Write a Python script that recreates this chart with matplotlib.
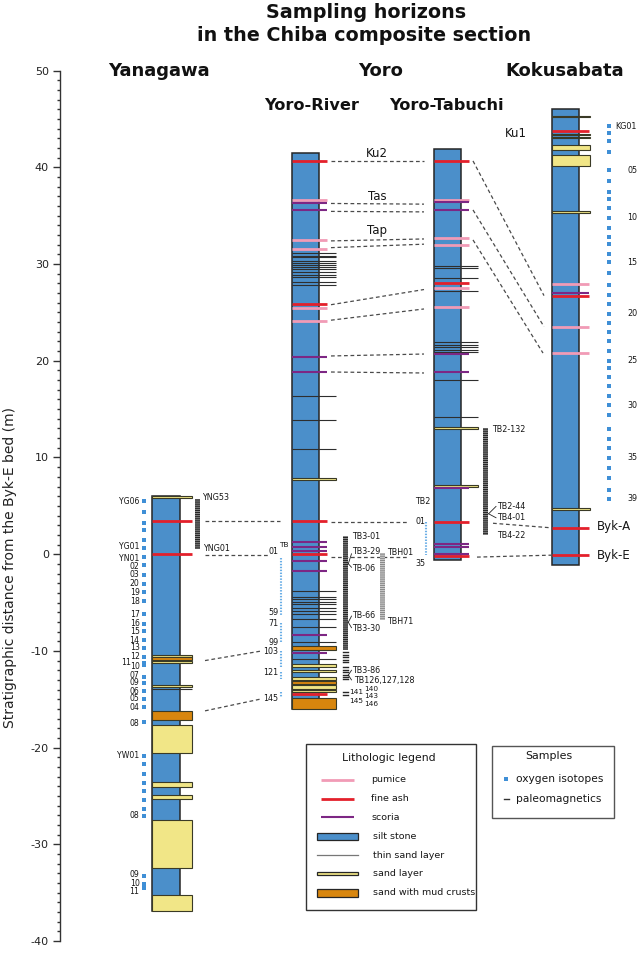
import matplotlib
matplotlib.use("Agg")
import matplotlib.pyplot as plt
from matplotlib.patches import Rectangle
from matplotlib.ticker import MultipleLocator

plt.rcParams['font.family'] = ['DejaVu Sans']
plt.rcParams['hatch.linewidth'] = 0.7
plt.rcParams['axes.unicode_minus'] = False

# ================= DATA: depths (m) relative to the Byk-E bed =================
# ---- Yanagawa ----
yan_silt = (6.0, -36.9)
yan_pumice = []
yan_ash = [3.45, 0.0]
yan_scoria = []
yan_thin = [-13.95]
yan_sand = [(6.0, 5.82), (-10.42, -10.6), (-11.05, -11.25), (-13.5, -13.78),
            (-17.65, -20.6), (-23.6, -24.1), (-24.9, -25.3), (-27.45, -32.4),
            (-35.2, -36.9)]
yan_mud = [(-10.65, -10.98), (-16.2, -17.1)]
yan_oxy = [5.48, 4.38, 3.24, 2.48, 1.45, 0.69, -0.28, -1.14, -2.17, -3.03, -3.96,
           -4.86, -6.21, -7.24, -7.93, -8.9, -9.69, -10.62, -11.24, -11.5, -12.7,
           -13.35, -14.15, -14.94, -15.83, -17.4, -20.88, -21.67, -22.7, -23.63,
           -24.46, -25.39, -26.32, -27.12, -33.23, -34.06, -34.5]
yan_oxy_labels = ["YG06", "YG01", "YN01", "02", "03", "20", "19", "18", "17", "16",
                  "15", "14", "13", "12", "10", "07", "09", "06", "05", "04", "08",
                  "YW01", "08", "09", "10", "11"]
yan_oxy_label_depths = [5.48, 0.8, -0.45, -1.27, -2.13, -3.0, -3.96, -4.87, -6.21,
                        -7.2, -7.98, -8.9, -9.69, -10.55, -11.6, -12.56, -13.3,
                        -14.18, -14.97, -15.9, -17.5, -20.84, -27.05, -33.08,
                        -34.06, -34.9]
yan_extra_label = ("11", -11.15)
yan_pmag = (5.69, 0.49)
yan_pmag_labels = [("YNG53", 5.84), ("YNG01", 0.56)]

# ---- Yoro-River ----
riv_silt = (41.5, -15.97)
riv_pumice = [36.6, 32.5, 31.56, 25.5, 24.1]
riv_ash = [40.67, 25.88, 3.45, 0.0, -14.42]
riv_scoria = [36.37, 35.6, 20.36, 18.84, 1.28, 0.76, 0.3, -0.69, -1.73, -8.31, -10.25]
riv_thin = [31.1, 30.85, 30.7, 30.35, 30.1, 29.9, 29.66, 29.45, 29.2, 28.85, 28.7,
            28.1, 27.8, 16.39, 13.84, 10.84, -3.83, -4.42, -4.66, -4.9, -5.17,
            -5.52, -5.87, -6.21, -6.73, -7.52, -9.07, -10.8]
riv_sand = [(7.88, 7.72), (-11.39, -11.66), (-11.97, -12.18), (-12.7, -12.97),
            (-13.55, -13.9), (-14.05, -14.25)]
riv_mud = [(-9.52, -9.94), (-13.15, -13.42), (-14.84, -15.97)]
riv_oxy_runs = [(-0.44, -6.3), (-7.1, -9.1), (-10.0, -11.66), (-12.2, -12.9),
                (-14.25, -14.77)]
riv_oxy_labels = [("01", 0.33), ("59", -6.07), ("71", -7.17), ("99", -9.17),
                  ("103", -10.1), ("121", -12.24), ("145", -14.94)]
riv_pmag = (1.86, -9.94)
riv_pmag_single = [-10.14, -10.38, -10.66, -10.93, -11.18, -11.7, -11.94, -12.2,
                   -12.45, -12.66, -12.9, -14.29, -14.52]
riv_pmag_labels = [("TB3-01", 1.86), ("TB3-29", 0.31), ("TB-06", -1.45),
                   ("TB-66", -6.35), ("TB3-30", -7.72), ("TB3-86", -12.0),
                   ("TB126,127,128", -13.07)]
riv_pmag_small_a = [("141", -14.29), ("145", -15.14)]
riv_pmag_small_b = [("140", -13.93), ("143", -14.63), ("146", -15.49)]
tbh_pmag = (0.17, -6.83)
tbh_labels = [("TBH01", 0.14), ("TBH71", -6.94)]

# ---- Yoro-Tabuchi ----
tab_silt = (41.9, -0.58)
tab_pumice = [36.6, 32.74, 31.95, 27.56, 25.6]
tab_ash = [40.67, 28.08, 3.34, -0.18]
tab_scoria = [36.4, 35.6, 20.67, 18.8, 6.86, 1.1, 0.76, 0.07]
tab_thin = [29.8, 29.6, 28.57, 27.18, 21.98, 21.64, 21.4, 21.12, 20.88, 18.0, 14.15]
tab_sand = [(13.15, 12.98), (7.12, 6.95)]
tab_mud = []
tab_oxy_run = (3.34, -0.1)
tab_oxy_labels = [("TB2", 5.49), ("01", 3.34), ("35", -0.99)]
tab_pmag = (13.1, 1.97)
tab_pmag_labels = [("TB2-132", 12.9), ("TB2-44", 4.94), ("TB4-01", 3.77), ("TB4-22", 1.94)]

# ---- Kokusabata ----
kok_silt = (46.0, -1.07)
kok_pumice = [27.9, 23.53, 20.8]
kok_ash = [43.79, 26.74, 2.73, -0.1]
kok_scoria = [27.05]
kok_thin = []
kok_sand = [(45.35, 45.18), (43.48, 43.32), (43.18, 43.02), (42.3, 41.75),
            (41.3, 40.16), (35.44, 35.28), (4.74, 4.58)]
kok_mud = []
kok_oxy = [44.27, 43.52, 42.72, 41.55, 39.72, 38.61, 37.47, 36.69, 35.76, 34.78,
           33.69, 32.82, 32.03, 31.03, 30.17, 29.03, 27.82, 26.78, 25.85, 24.89,
           23.91, 22.95, 22.02, 21.01, 19.98, 19.25, 18.32, 17.36, 16.36, 15.39,
           14.36, 12.91, 11.95, 10.97, 9.98, 8.9, 7.91, 6.6, 5.73]
kok_oxy_labels = [("KG01", 44.27), ("05", 39.72), ("10", 34.78), ("15", 30.17),
                  ("20", 24.89), ("25", 19.98), ("30", 15.39), ("35", 9.98), ("39", 5.73)]

# ---- correlation (tie) lines: (depth at left end, depth at right end) ----
ties_yan_riv = [(3.4, 3.4), (-0.05, -0.05), (-11.0, -10.0), (-16.2, -14.95)]
ties_riv_tab = [(40.67, 40.67), (36.27, 36.2), (35.45, 35.4), (32.4, 32.6),
                (31.7, 32.06), (25.8, 27.37), (24.2, 25.36), (20.5, 20.7),
                (18.84, 18.74), (3.31, 3.31), (-0.24, -0.24)]
ties_tab_kok = [(40.67, 26.74), (35.6, 23.53), (32.5, 20.8), (3.2, 2.73), (-0.3, -0.1)]

# ---- tephra names ----
tephra_names = [("Ku2", 41.43), ("Tas", 36.96), ("Tap", 33.44)]
ku1_label = ("Ku1", 43.55)
byk_labels = [("Byk-A", 2.9), ("Byk-E", -0.13)]

# ================= STYLE / LAYOUT =================
BLUE = '#4b8fca'
EDGE = '#262626'
PINK = '#f19bb6'
RED = '#e3202b'
PURPLE = '#7d2784'
THIN = '#2e2e2e'
SAND = '#f1e687'
MUD = '#d8860e'
OXY = '#3f8fd6'
OXY_LIGHT = '#6aaee6'
TIE = '#4a4a4a'
TXT = '#161616'

COL_YAN = dict(x0=152.0, x1=179.5, teph=12.0, sand=12.5)
COL_RIV = dict(x0=292.3, x1=319.0, teph=8.3, sand=17.0)
COL_TAB = dict(x0=434.3, x1=461.0, teph=8.0, sand=16.7)
COL_KOK = dict(x0=552.3, x1=578.7, teph=10.3, sand=11.3)

fig = plt.figure(figsize=(6.38, 9.56), dpi=100)
ax = fig.add_axes([60 / 638, 15 / 956, 578 / 638, (941 - 70.7) / 956])
ax.set_xlim(60, 638)
ax.set_ylim(-40, 50)
ax.patch.set_alpha(0)
for s in ['top', 'right', 'bottom']:
    ax.spines[s].set_visible(False)
ax.spines['left'].set_color('#333333')
ax.spines['left'].set_linewidth(1.0)
ax.set_xticks([])
ax.yaxis.set_major_locator(MultipleLocator(10))
ax.yaxis.set_minor_locator(MultipleLocator(1))
ax.tick_params(axis='y', which='major', length=5, width=1, colors='#333333',
               labelsize=8, labelcolor='#222222', pad=3)
ax.tick_params(axis='y', which='minor', length=2.5, width=1, colors='#333333')


def section(c, silt, pumice, ash, scoria, thin, sand, mud):
    x0, x1 = c['x0'], c['x1']
    ax.add_patch(Rectangle((x0, silt[1]), x1 - x0, silt[0] - silt[1], fc=BLUE,
                           ec=EDGE, lw=1.1, zorder=2))
    for d in thin:
        ax.plot([x0, x1 + c['sand']], [d, d], color=THIN, lw=0.8, zorder=3,
                solid_capstyle='butt')
    for t, b in sand:
        ax.add_patch(Rectangle((x0, b), x1 - x0 + c['sand'], t - b, fc=SAND,
                               ec='#3a3a26', lw=0.8, zorder=4))
    for t, b in mud:
        ax.add_patch(Rectangle((x0, b), x1 - x0 + c['sand'], t - b, fc=MUD,
                               ec='#3a3a26', lw=0.8, zorder=4))
    for d in pumice:
        ax.plot([x0, x1 + c['teph']], [d, d], color=PINK, lw=2.0, zorder=5,
                solid_capstyle='butt')
    for d in ash:
        ax.plot([x0, x1 + c['teph']], [d, d], color=RED, lw=2.0, zorder=5,
                solid_capstyle='butt')
    for d in scoria:
        ax.plot([x0, x1 + c['teph']], [d, d], color=PURPLE, lw=1.5, zorder=5,
                solid_capstyle='butt')


section(COL_YAN, yan_silt, yan_pumice, yan_ash, yan_scoria, yan_thin, yan_sand, yan_mud)
section(COL_RIV, riv_silt, riv_pumice, riv_ash, riv_scoria, riv_thin, riv_sand, riv_mud)
section(COL_TAB, tab_silt, tab_pumice, tab_ash, tab_scoria, tab_thin, tab_sand, tab_mud)
section(COL_KOK, kok_silt, kok_pumice, kok_ash, kok_scoria, kok_thin, kok_sand, kok_mud)


def tie(xa, da, xb, db):
    ax.plot([xa, xb], [da, db], color=TIE, lw=0.9, ls=(0, (3, 2.2)), zorder=1)


for (da, db), xb in zip(ties_yan_riv, [280, 268, 262, 262]):
    tie(205, da, xb, db)
for i, (da, db) in enumerate(ties_riv_tab):
    tie(331, da, 407 if i >= len(ties_riv_tab) - 2 else 424, db)
for i, (da, db) in enumerate(ties_tab_kok):
    xa = [473, 473, 473, 493, 477][i]
    xb = [544, 544, 543, 551, 551][i]
    tie(xa, da, xb, db)


def lab(x, d, s, ha='left', size=5.8, **kw):
    ax.text(x, d, s, ha=ha, va='center', fontsize=size, color=TXT, **kw)


def pbar(x, top, bot, fc='#262626', hc='#8c8c8c'):
    ax.add_patch(Rectangle((x, bot), 4.8, top - bot, fc=fc, ec=hc, lw=0,
                           hatch='--------', zorder=3))


# oxygen isotope samples
ax.plot([144.3] * len(yan_oxy), yan_oxy, ls='none', marker='s', ms=2.3, mew=0,
        color=OXY, zorder=3)
ax.plot([609.0] * len(kok_oxy), kok_oxy, ls='none', marker='s', ms=2.3, mew=0,
        color=OXY, zorder=3)
for a, b in riv_oxy_runs:
    ax.plot([281, 281], [a, b], color=OXY_LIGHT, lw=1.5, ls=(0, (0.7, 0.7)), zorder=3)
ax.plot([425.7, 425.7], list(tab_oxy_run), color=OXY_LIGHT, lw=1.5,
        ls=(0, (0.7, 0.7)), zorder=3)

for s, d in zip(yan_oxy_labels, yan_oxy_label_depths):
    lab(139.5, d, s, ha='right', size=5.6)
lab(131, yan_extra_label[1], yan_extra_label[0], ha='right', size=5.6)
for s, d in riv_oxy_labels:
    lab(278.5, d, s, ha='right')
ax.text(279, 0.9, "TB", ha='left', va='center', fontsize=5.3, color=TXT)
for s, d in tab_oxy_labels:
    lab(415, d, s)
for i, (s, d) in enumerate(kok_oxy_labels):
    lab(615.7 if i == 0 else 627.5, d, s)

# paleomagnetic samples
pbar(195, *yan_pmag)
for (s, d), x in zip(yan_pmag_labels, [201.7, 203.3]):
    lab(x, d, s)
pbar(343, *riv_pmag)
for d in riv_pmag_single:
    ax.plot([343, 347.8], [d, d], color='#262626', lw=1.0, zorder=3)
for s, d in riv_pmag_labels:
    lab(351.7 if not s.startswith("TB126") else 354.3, d, s)
for s, d in riv_pmag_small_a:
    lab(349, d, s, size=5.3)
for s, d in riv_pmag_small_b:
    lab(364.5, d, s, size=5.3)
pbar(380.2, *tbh_pmag, fc='#8a8a8a', hc='#d0d0d0')
for s, d in tbh_labels:
    lab(386.7, d, s)
pbar(483.3, *tab_pmag)
for i, (s, d) in enumerate(tab_pmag_labels):
    lab(492.3 if i == 0 else 496.7, d, s)

# leader lines
for (xa, da), ends in [((348.3, -0.99), [0.04, -1.35]), ((348.3, -7.04), [-6.4, -7.6]),
                       ((348.3, -12.5), [-12.0, -13.0]), ((488.6, 4.18), [4.94, 3.77])]:
    for e in ends:
        ax.plot([xa, xa + 3.2 if xa < 400 else 496], [da, e], color='#222222', lw=0.6, zorder=3)

# tephra names
for s, d in tephra_names:
    ax.text(377, d, s, ha='center', va='center', fontsize=8.5, color=TXT)
ax.text(516, ku1_label[1], ku1_label[0], ha='center', va='center', fontsize=8.5, color=TXT)
for s, d in byk_labels:
    ax.text(597, d, s, ha='left', va='center', fontsize=8.5, color=TXT)

# ================= overlay (titles, axis label, legends) in pixel coords =========
lg = fig.add_axes([0, 0, 1, 1])
lg.set_xlim(0, 638)
lg.set_ylim(956, 0)
lg.axis('off')

lg.text(366, 18.3, "Sampling horizons", ha='center', va='baseline', fontsize=13.8,
        fontweight='bold', color='#111111')
lg.text(364, 41, "in the Chiba composite section", ha='center', va='baseline',
        fontsize=13.8, fontweight='bold', color='#111111')
for x, y, s, fs in [(159, 76, "Yanagawa", 13), (380.5, 76, "Yoro", 13),
                    (565, 76, "Kokusabata", 13), (311.5, 110, "Yoro-River", 11.6),
                    (446, 110, "Yoro-Tabuchi", 11.6)]:
    lg.text(x, y, s, ha='center', va='baseline', fontsize=fs, fontweight='bold',
            color='#111111')
lg.text(10, 568, "Stratigraphic distance from the Byk-E bed (m)", rotation=90,
        ha='center', va='center', fontsize=10, color='#222222')

# Lithologic legend
lg.add_patch(Rectangle((305.7, 744), 170.3, 166, fc='white', ec='#333333', lw=1.0))
lg.text(389, 758.3, "Lithologic legend", ha='center', va='center', fontsize=7.8, color=TXT)
for y, col, lw_, s in [(780, PINK, 2.0, "pumice"), (798.7, RED, 2.0, "fine ash"),
                       (817.3, PURPLE, 1.5, "scoria")]:
    lg.plot([320.7, 354], [y, y], color=col, lw=lw_, solid_capstyle='butt')
    lg.text(371, y, s, ha='left', va='center', fontsize=6.8, color=TXT)
lg.add_patch(Rectangle((316.7, 832.7), 41.6, 7.3, fc=BLUE, ec=EDGE, lw=0.9))
lg.text(372.7, 836.3, "silt stone", ha='left', va='center', fontsize=6.8, color=TXT)
lg.plot([316.7, 358.3], [855, 855], color='#777777', lw=0.9)
lg.text(372.7, 855, "thin sand layer", ha='left', va='center', fontsize=6.8, color=TXT)
lg.add_patch(Rectangle((316.7, 871.5), 41.6, 3.8, fc=SAND, ec=EDGE, lw=0.9))
lg.text(372.7, 873.3, "sand layer", ha='left', va='center', fontsize=6.8, color=TXT)
lg.add_patch(Rectangle((316.7, 888.8), 41.6, 7.8, fc=MUD, ec=EDGE, lw=0.9))
lg.text(373.3, 892.3, "sand with mud crusts", ha='left', va='center', fontsize=6.8, color=TXT)

# Samples legend
lg.add_patch(Rectangle((492.3, 745.7), 121.7, 72.3, fc='white', ec='#555555', lw=1.0))
lg.text(549, 756.3, "Samples", ha='center', va='center', fontsize=7.9, color=TXT)
lg.plot([505.7], [778.7], ls='none', marker='s', ms=2.3, mew=0, color=OXY)
lg.text(516, 778.7, "oxygen isotopes", ha='left', va='center', fontsize=7.7, color=TXT)
lg.plot([503.5, 508.5], [798.7, 798.7], color='#333333', lw=1.0)
lg.text(516, 798.7, "paleomagnetics", ha='left', va='center', fontsize=7.7, color=TXT)

fig.savefig("out.png", dpi=100)
